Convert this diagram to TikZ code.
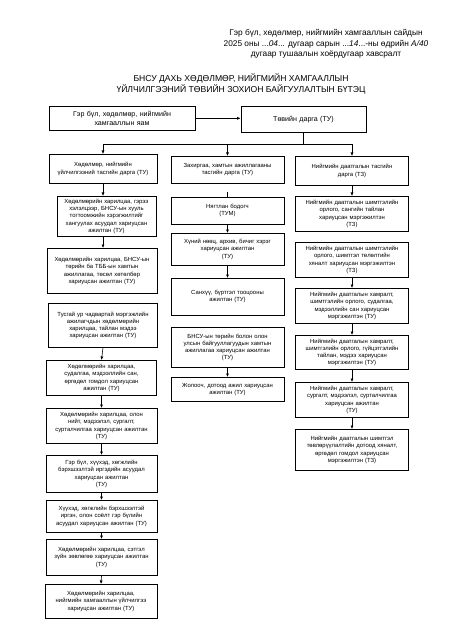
\documentclass[tikz,border=0pt]{standalone}
\usepackage{fontspec}
\setmainfont{Liberation Sans}
\usetikzlibrary{arrows.meta,positioning}

\begin{document}
\begin{tikzpicture}[x=1pt,y=-1pt,box/.style={draw,anchor=north,align=center,inner sep=1.5pt,line width=0.65pt,font=\fontsize{5.9}{7.2}\selectfont},topbox/.style={box,font=\fontsize{7.1}{9}\selectfont},arr/.style={-{Latex[length=3.5pt,width=3pt]},line width=0.6pt}]
\useasboundingbox[fill=white] (0,0) rectangle (466,644);
\node[font=\fontsize{8.3}{10.5}\selectfont,align=center] (decree) at (326,44) {Гэр бүл, хөдөлмөр, нийгмийн хамгааллын сайдын\\2025 оны ...{\itshape 04}... дугаар сарын ...{\itshape 14}...-ны өдрийн {\itshape А/40}\\дугаар тушаалын хоёрдугаар хавсралт};
\node[font=\fontsize{8.6}{11}\selectfont,align=center] (title) at (241,84) {БНСУ ДАХЬ ХӨДӨЛМӨР, НИЙГМИЙН ХАМГААЛЛЫН\\ҮЙЛЧИЛГЭЭНИЙ ТӨВИЙН ЗОХИОН БАЙГУУЛАЛТЫН БҮТЭЦ};
\node[topbox,text width=143pt,minimum height=24pt] (ministry) at (122,106) {Гэр бүл, хөдөлмөр, нийгмийн\\хамгааллын яам};
\node[topbox,text width=122pt,minimum height=26pt] (director) at (303.5,106) {Төвийн дарга (ТУ)};
% first column
\node[box,text width=105pt,minimum height=29pt] (labhead) at (103,154) {Хөдөлмөр, нийгмийн\\үйлчилгээний тасгийн дарга (ТУ)};
\node[box,text width=96pt,minimum height=40pt] (lab1) at (106.5,196) {Хөдөлмөрийн харилцаа, гэрээ\\хэлэлцээр, БНСУ-ын хууль\\тогтоомжийн хэрэгжилтийг\\хангуулах асуудал хариуцсан\\ажилтан (ТУ)};
\node[box,text width=107pt,minimum height=45pt] (lab2) at (102,248) {Хөдөлмөрийн харилцаа, БНСУ-ын\\төрийн ба ТББ-ын хамтын\\ажиллагаа, төсөл хөтөлбөр\\хариуцсан ажилтан (ТУ)};
\node[box,text width=106pt,minimum height=44pt] (lab3) at (103,303) {Тусгай ур чадвартай мэргэжлийн\\ажилагчдын хөдөлмөрийн\\харилцаа, тайлан мэдээ\\хариуцсан ажилтан (ТУ)};
\node[box,text width=107pt,minimum height=35pt] (lab4) at (101.5,360) {Хөдөлмөрийн харилцаа,\\судалгаа, мэдээллийн сан,\\өргөдөл гомдол хариуцсан\\ажилтан (ТУ)};
\node[box,text width=108pt,minimum height=35pt] (lab5) at (101.5,408) {Хөдөлмөрийн харилцаа, олон\\нийт, мэдээлэл, сургалт,\\сурталчилгаа хариуцсан ажилтан\\(ТУ)};
\node[box,text width=108pt,minimum height=37pt] (lab6) at (101.5,455) {Гэр бүл, хүүхэд, хөгжлийн\\бэрхшээлтэй иргэдийн асуудал\\хариуцсан ажилтан\\(ТУ)};
\node[box,text width=108pt,minimum height=32pt] (lab7) at (101.5,500) {Хүүхэд, хөгжлийн бэрхшээлтэй\\иргэн, олон соёлт гэр бүлийн\\асуудал хариуцсан ажилтан (ТУ)};
\node[box,text width=108pt,minimum height=36pt] (lab8) at (101.5,539) {Хөдөлмөрийн харилцаа, сэтгэл\\зүйн зөвлөгөө хариуцсан ажилтан\\(ТУ)};
\node[box,text width=109pt,minimum height=34pt] (lab9) at (101,584) {Хөдөлмөрийн харилцаа,\\нийгмийн хамгааллын үйлчилгээ\\хариуцсан ажилтан (ТУ)};
% second column
\node[box,text width=110pt,minimum height=27pt] (admhead) at (227.5,156) {Захиргаа, хамтын ажиллагааны\\тасгийн дарга (ТУ)};
\node[box,text width=110pt,minimum height=27pt] (adm1) at (227.5,197) {Нягтлан бодогч\\(ТУМ)};
\node[box,text width=110pt,minimum height=32pt] (adm2) at (227.5,233) {Хүний нөөц, архив, бичиг хэрэг\\хариуцсан ажилтан\\(ТУ)};
\node[box,text width=110pt,minimum height=37pt] (adm3) at (227.5,278) {Санхүү, бүртгэл тооцооны\\ажилтан (ТУ)};
\node[box,text width=110pt,minimum height=40pt] (adm4) at (227.5,327) {БНСУ-ын төрийн болон олон\\улсын байгууллагуудын хамтын\\ажиллагаа хариуцсан ажилтан\\(ТУ)};
\node[box,text width=110pt,minimum height=24pt] (adm5) at (227.5,377) {Жолооч, дотоод ажил хариуцсан\\ажилтан (ТУ)};
% third column
\node[box,text width=110pt,minimum height=29pt] (inshead) at (352,156) {Нийгмийн даатгалын тасгийн\\дарга (ТЗ)};
\node[box,text width=110pt,minimum height=35pt] (ins1) at (352,196) {Нийгмийн даатгалын шимтгэлийн\\орлого, сангийн тайлан\\хариуцсан мэргэжилтэн\\(ТЗ)};
\node[box,text width=110pt,minimum height=35pt] (ins2) at (352,242) {Нийгмийн даатгалын шимтгэлийн\\орлого, шимтгэл төлөлтийн\\хяналт хариуцсан мэргэжилтэн\\(ТЗ)};
\node[box,text width=110pt,minimum height=35pt] (ins3) at (352,288) {Нийгмийн даатгалын хамралт,\\шимтгэлийн орлого, судалгаа,\\мэдээллийн сан хариуцсан\\мэргэжилтэн (ТУ)};
\node[box,text width=110pt,minimum height=34pt] (ins4) at (352,335) {Нийгмийн даатгалын хамралт,\\шимтгэлийн орлого, гүйцэтгэлийн\\тайлан, мэдээ хариуцсан\\мэргэжилтэн (ТУ)};
\node[box,text width=110pt,minimum height=35pt] (ins5) at (352,382) {Нийгмийн даатгалын хамралт,\\сургалт, мэдээлэл, сурталчилгаа\\хариуцсан ажилтан\\(ТУ)};
\node[box,text width=110pt,minimum height=41pt] (ins6) at (352,429) {Нийгмийн даатгалын шимтгэл\\төвлөрүүлалтийн дотоод хяналт,\\өргөдөл гомдол хариуцсан\\мэргэжилтэн (ТЗ)};
\coordinate (bus) at (303.5,144);
\draw[arr] (ministry.east) -- (ministry.east -| director.west);
\draw[line width=0.6pt] (director.south) -- (bus);
\draw[line width=0.6pt] (bus -| labhead.north) -- (bus -| inshead.north);
\draw[arr] (bus -| labhead.north) -- (labhead.north);
\draw[arr] (bus -| admhead.north) -- (admhead.north);
\draw[arr] (bus -| inshead.north) -- (inshead.north);
\draw[arr] (labhead.south) -- (labhead.south |- lab1.north);
\draw[arr] (lab1.south -| labhead.south) -- (lab2.north -| labhead.south);
\draw[arr] (lab3.south) -- (lab4.north);
\draw[arr] (lab4.south) -- (lab5.north);
\draw[arr] (lab5.south) -- (lab6.north);
\draw[arr] (lab6.south) -- (lab7.north);
\draw[arr] (lab7.south) -- (lab8.north);
\draw[arr] (lab8.south) -- (lab9.north);
\draw[line width=0.6pt,shorten <=8pt] (admhead.south) -- (adm1.north);
\draw[arr] (adm1.south) -- (adm2.north);
\draw[arr] (adm2.south) -- (adm3.north);
\draw[arr] (adm4.south) -- (adm5.north);
\draw[arr] (inshead.south) -- (ins1.north);
\draw[arr] (ins2.south) -- (ins3.north);
\draw[arr] (ins3.south) -- (ins4.north);
\draw[arr] (ins4.south) -- (ins5.north);
\draw[arr] (ins5.south) -- (ins6.north);
\end{tikzpicture}
\end{document}
